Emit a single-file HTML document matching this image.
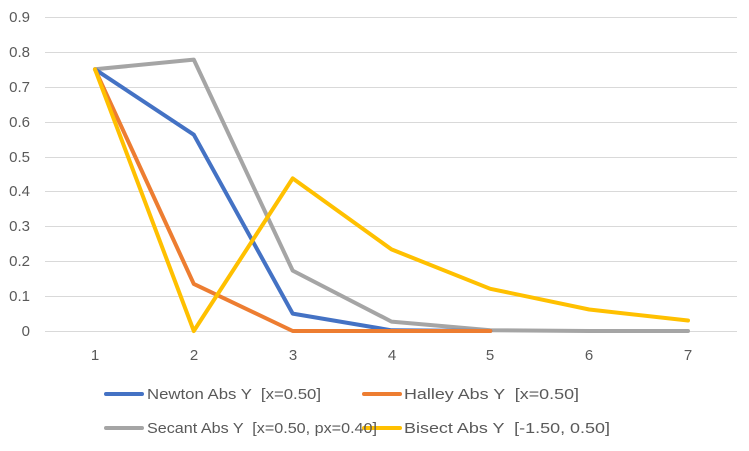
<!DOCTYPE html><html><head><style>body{margin:0;background:#fff}svg{display:block}text{font-family:"Liberation Sans",sans-serif;fill:#595959;white-space:pre}</style></head><body>
<svg width="749" height="451" viewBox="0 0 749 451">
<g stroke="#d9d9d9" stroke-width="1">
<line x1="45" x2="737" y1="17.5" y2="17.5"/><line x1="45" x2="737" y1="52.5" y2="52.5"/><line x1="45" x2="737" y1="87.5" y2="87.5"/><line x1="45" x2="737" y1="122.5" y2="122.5"/><line x1="45" x2="737" y1="157.5" y2="157.5"/><line x1="45" x2="737" y1="191.5" y2="191.5"/><line x1="45" x2="737" y1="226.5" y2="226.5"/><line x1="45" x2="737" y1="261.5" y2="261.5"/><line x1="45" x2="737" y1="296.5" y2="296.5"/><line x1="45" x2="737" y1="331.5" y2="331.5"/></g>
<g font-size="15" text-anchor="end">
<text x="30" y="22">0.9</text><text x="30" y="57">0.8</text><text x="30" y="92">0.7</text><text x="30" y="127">0.6</text><text x="30" y="162">0.5</text><text x="30" y="196">0.4</text><text x="30" y="231">0.3</text><text x="30" y="266">0.2</text><text x="30" y="301">0.1</text><text x="30" y="336">0</text></g>
<g font-size="15" text-anchor="middle">
<text x="95" y="360">1</text><text x="194" y="360">2</text><text x="293" y="360">3</text><text x="392" y="360">4</text><text x="490" y="360">5</text><text x="589" y="360">6</text><text x="688" y="360">7</text></g>
<g fill="none" stroke-width="4" stroke-linejoin="round" stroke-linecap="round">
<polyline stroke="#a5a5a5" points="95,69.3 193.8,59.6 292.7,270.6 391.5,321.6 490.3,330.3 589.2,331 688,331"/>
<polyline stroke="#4472c4" points="95,69.3 193.8,134.7 292.7,313.6 391.5,330.3 490.3,331"/>
<polyline stroke="#ed7d31" points="95,69.3 193.8,283.9 292.7,331 391.5,331 490.3,331"/>
<polyline stroke="#ffc000" points="95,69.3 193.8,331 292.7,178.4 391.5,249.4 490.3,288.8 589.2,309.5 688,320.5"/>
</g>
<g stroke-width="4" stroke-linecap="round">
<line x1="106" x2="142" y1="394" y2="394" stroke="#4472c4"/>
<line x1="364" x2="400" y1="394" y2="394" stroke="#ed7d31"/>
<line x1="106" x2="142" y1="428" y2="428" stroke="#a5a5a5"/>
<line x1="364" x2="400" y1="428" y2="428" stroke="#ffc000"/></g>
<g font-size="15">
<text x="147" y="399" textLength="174" lengthAdjust="spacingAndGlyphs">Newton Abs Y  [x=0.50]</text>
<text x="404" y="399" textLength="175" lengthAdjust="spacingAndGlyphs">Halley Abs Y  [x=0.50]</text>
<text x="147" y="433" textLength="230" lengthAdjust="spacingAndGlyphs">Secant Abs Y  [x=0.50, px=0.40]</text>
<text x="404" y="433" textLength="206" lengthAdjust="spacingAndGlyphs">Bisect Abs Y  [-1.50, 0.50]</text></g>
</svg></body></html>
